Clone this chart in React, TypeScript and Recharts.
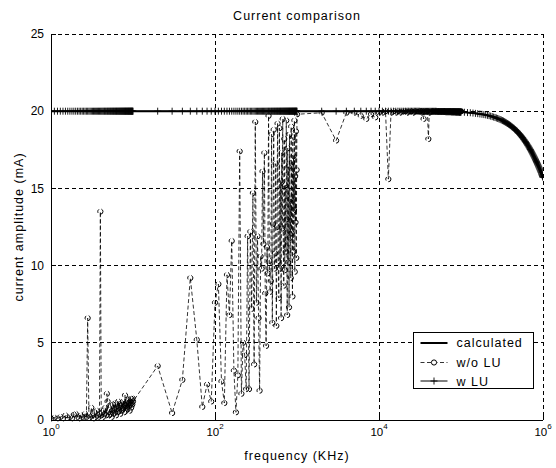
import React from 'react';
import { LineChart, Line, XAxis, YAxis, CartesianGrid } from 'recharts';

// ---------- frequency grid (kHz) ----------
const freqA = [
  1, 1.1, 1.2, 1.3, 1.4, 1.5, 1.6, 1.7, 1.8, 1.9,
  2, 2.1, 2.2, 2.3, 2.4, 2.5, 2.6, 2.7, 2.8, 2.9,
  3, 3.1, 3.2, 3.3, 3.4, 3.5, 3.6, 3.7, 3.8, 3.9,
  4, 4.1, 4.2, 4.3, 4.4, 4.5, 4.6, 4.7, 4.8, 4.9,
  5, 5.1, 5.2, 5.3, 5.4, 5.5, 5.6, 5.7, 5.8, 5.9,
  6, 6.1, 6.2, 6.3, 6.4, 6.5, 6.6, 6.7, 6.8, 6.9,
  7, 7.1, 7.2, 7.3, 7.4, 7.5, 7.6, 7.7, 7.8, 7.9,
  8, 8.1, 8.2, 8.3, 8.4, 8.5, 8.6, 8.7, 8.8, 8.9,
  9, 9.1, 9.2, 9.3, 9.4, 9.5, 9.6, 9.7, 9.8, 9.9,
  10,
];
const freqB = [20, 30, 40, 50, 60, 70, 80, 90, 100];
const freqC = [
  110, 120, 130, 140, 150, 160, 170, 180, 190, 200,
  210, 220, 230, 240, 250, 260, 270, 280, 290, 300,
  310, 320, 330, 340, 350, 360, 370, 380, 390, 400,
  410, 420, 430, 440, 450, 460, 470, 480, 490, 500,
  510, 520, 530, 540, 550, 560, 570, 580, 590, 600,
  610, 620, 630, 640, 650, 660, 670, 680, 690, 700,
  710, 720, 730, 740, 750, 760, 770, 780, 790, 800,
  810, 820, 830, 840, 850, 860, 870, 880, 890, 900,
  910, 920, 930, 940, 950, 960, 970, 980, 990, 1000,
];
const freqD = [2000, 3000, 4000, 5000, 6000, 7000, 8000, 9000, 10000];
const freqE = [
  11000, 12000, 13000, 14000, 15000, 16000, 17000, 18000, 19000, 20000,
  21000, 22000, 23000, 24000, 25000, 26000, 27000, 28000, 29000, 30000,
  31000, 32000, 33000, 34000, 35000, 36000, 37000, 38000, 39000, 40000,
  41000, 42000, 43000, 44000, 45000, 46000, 47000, 48000, 49000, 50000,
  51000, 52000, 53000, 54000, 55000, 56000, 57000, 58000, 59000, 60000,
  61000, 62000, 63000, 64000, 65000, 66000, 67000, 68000, 69000, 70000,
  71000, 72000, 73000, 74000, 75000, 76000, 77000, 78000, 79000, 80000,
  81000, 82000, 83000, 84000, 85000, 86000, 87000, 88000, 89000, 90000,
  91000, 92000, 93000, 94000, 95000, 96000, 97000, 98000, 99000, 100000,
];
const freqF = [
  110000, 120000, 130000, 140000, 150000, 160000, 170000, 180000, 190000, 200000,
  210000, 220000, 230000, 240000, 250000, 260000, 270000, 280000, 290000, 300000,
  310000, 320000, 330000, 340000, 350000, 360000, 370000, 380000, 390000, 400000,
  410000, 420000, 430000, 440000, 450000, 460000, 470000, 480000, 490000, 500000,
  510000, 520000, 530000, 540000, 550000, 560000, 570000, 580000, 590000, 600000,
  610000, 620000, 630000, 640000, 650000, 660000, 670000, 680000, 690000, 700000,
  710000, 720000, 730000, 740000, 750000, 760000, 770000, 780000, 790000, 800000,
  810000, 820000, 830000, 840000, 850000, 860000, 870000, 880000, 890000, 900000,
  910000, 920000, 930000, 940000, 950000, 960000, 970000, 980000, 990000, 1000000,
];

// ---------- calculated / w LU amplitude (mA) ----------
const calcA = [
  20, 20, 20, 20, 20, 20, 20, 20, 20, 20,
  20, 20, 20, 20, 20, 20, 20, 20, 20, 20,
  20, 20, 20, 20, 20, 20, 20, 20, 20, 20,
  20, 20, 20, 20, 20, 20, 20, 20, 20, 20,
  20, 20, 20, 20, 20, 20, 20, 20, 20, 20,
  20, 20, 20, 20, 20, 20, 20, 20, 20, 20,
  20, 20, 20, 20, 20, 20, 20, 20, 20, 20,
  20, 20, 20, 20, 20, 20, 20, 20, 20, 20,
  20, 20, 20, 20, 20, 20, 20, 20, 20, 20,
  20,
];
const calcB = [20, 20, 20, 20, 20, 20, 20, 20, 20];
const calcC = [
  20, 20, 20, 20, 20, 20, 20, 20, 20, 20,
  20, 20, 20, 20, 20, 20, 20, 20, 20, 20,
  20, 20, 20, 20, 20, 20, 20, 20, 20, 20,
  20, 20, 20, 20, 20, 20, 20, 20, 20, 20,
  20, 20, 20, 20, 20, 20, 20, 20, 20, 20,
  20, 20, 20, 20, 20, 20, 20, 20, 20, 20,
  20, 20, 20, 20, 20, 20, 20, 20, 20, 20,
  20, 20, 20, 20, 20, 20, 20, 20, 20, 20,
  20, 20, 20, 20, 20, 20, 20, 20, 20, 20,
];
const calcD = [20, 20, 20, 20, 20, 20, 20, 20, 20];
const calcE = [
  20, 20, 20, 20, 20, 20, 20, 20, 20, 20,
  20, 20, 20, 20, 20, 20, 20, 20, 20, 20,
  20, 19.99, 19.99, 19.99, 19.99, 19.99, 19.99, 19.99, 19.99, 19.99,
  19.99, 19.99, 19.99, 19.99, 19.99, 19.99, 19.99, 19.99, 19.99, 19.99,
  19.98, 19.98, 19.98, 19.98, 19.98, 19.98, 19.98, 19.98, 19.98, 19.98,
  19.98, 19.98, 19.98, 19.98, 19.97, 19.97, 19.97, 19.97, 19.97, 19.97,
  19.97, 19.97, 19.97, 19.97, 19.97, 19.96, 19.96, 19.96, 19.96, 19.96,
  19.96, 19.96, 19.96, 19.96, 19.96, 19.95, 19.95, 19.95, 19.95, 19.95,
  19.95, 19.95, 19.95, 19.95, 19.94, 19.94, 19.94, 19.94, 19.94, 19.94,
];
const calcF = [
  19.93, 19.91, 19.90, 19.88, 19.86, 19.84, 19.82, 19.80, 19.78, 19.76,
  19.73, 19.71, 19.68, 19.65, 19.62, 19.59, 19.56, 19.53, 19.50, 19.46,
  19.43, 19.39, 19.36, 19.32, 19.28, 19.24, 19.20, 19.16, 19.12, 19.08,
  19.03, 18.99, 18.94, 18.90, 18.85, 18.80, 18.76, 18.71, 18.66, 18.61,
  18.56, 18.51, 18.46, 18.41, 18.35, 18.30, 18.25, 18.19, 18.14, 18.08,
  18.03, 17.97, 17.92, 17.86, 17.80, 17.75, 17.69, 17.63, 17.57, 17.52,
  17.46, 17.40, 17.34, 17.28, 17.22, 17.16, 17.10, 17.04, 16.98, 16.92,
  16.86, 16.80, 16.74, 16.68, 16.62, 16.56, 16.50, 16.44, 16.38, 16.32,
  16.26, 16.20, 16.14, 16.08, 16.02, 15.95, 15.89, 15.83, 15.77, 15.71,
];

// ---------- w/o LU amplitude (mA) ----------
const woA = [
  0.1, 0.15, 0.1, 0.2, 0.1, 0.3, 0.15, 0.2, 0.1, 0.35,
  0.4, 0.2, 0.1, 0.3, 0.2, 0.15, 0.4, 0.2, 6.6, 0.3,
  0.2, 0.8, 0.3, 0.1, 0.5, 0.2, 0.6, 0.3, 0.2, 0.4,
  13.5, 0.3, 0.5, 0.2, 0.6, 0.4, 0.8, 0.3, 1.7, 1.2,
  0.5, 0.3, 0.7, 0.4, 0.9, 0.2, 0.6, 1.0, 0.4, 0.8,
  0.5, 1.1, 0.3, 0.7, 0.9, 0.5, 1.2, 0.6, 0.8, 1.0,
  0.4, 0.9, 1.1, 0.6, 1.0, 0.7, 1.2, 0.8, 0.5, 1.0,
  1.6, 0.9, 0.6, 1.1, 0.8, 1.2, 0.7, 1.0, 1.3, 0.9,
  1.1, 0.6, 1.2, 1.0, 1.4, 0.8, 1.1, 1.3, 1.0, 1.4,
  1.2,
];
const woB = [3.5, 0.45, 2.6, 9.2, 5.2, 0.85, 2.3, 1.2, 7.6];
const woC = [
  8.8, 2.5, 1.1, 9.4, 6.8, 11.6, 3.2, 0.5, 2.9, 17.4,
  1.7, 5.0, 4.2, 2.0, 11.9, 2.0, 12.2, 7.2, 14.7, 3.6,
  19.3, 7.6, 11.9, 6.6, 1.9, 10.6, 9.8, 16.1, 11.4, 17.3,
  8.2, 4.8, 11.2, 9.5, 19.7, 10.3, 8.3, 9.0, 18.5, 6.3,
  12.7, 18.8, 9.8, 10.8, 16.6, 6.1, 12.5, 19.2, 10.3, 7.9,
  18.9, 9.8, 15.5, 6.6, 17.3, 12.4, 19.5, 11.4, 8.7, 18.2,
  9.7, 15.2, 10.9, 19.4, 13.0, 6.8, 17.6, 10.2, 16.4, 7.3,
  18.5, 11.8, 14.3, 9.2, 19.0, 12.1, 16.7, 8.0, 18.3, 10.9,
  17.1, 13.6, 19.4, 9.6, 15.8, 12.8, 18.7, 10.5, 16.2, 19.8,
];
const woD = [19.9, 18.1, 19.9, 19.9, 19.7, 19.5, 19.8, 19.6, 19.9];
const woE = [
  19.9, 20, 15.6, 19.9, 20, 19.9, 20, 19.9, 20, 20,
  20, 19.9, 20, 20, 20, 19.9, 20, 20, 20, 20,
  20, 20, 19.9, 20, 19.5, 20, 20, 20, 20, 18.2,
  19.9, 20, 20, 20, 20, 20, 20, 20, 20, 20,
  20, 20, 20, 20, 20, 20, 20, 20, 20, 20,
  20, 20, 20, 20, 20, 20, 20, 20, 20, 20,
  20, 20, 20, 20, 20, 20, 20, 20, 20, 20,
  20, 20, 20, 20, 20, 20, 20, 20, 20, 20,
  20, 20, 20, 20, 20, 20, 20, 20, 20, 20,
];

const xTicks = [1, 100, 10000, 1000000];
const yTicks = [0, 5, 10, 15, 20, 25];

const pair = (fs: number[], vs: number[]) => fs.map((f, i) => ({ f, v: vs[i] }));

const calcData = [
  ...pair(freqA, calcA), ...pair(freqB, calcB), ...pair(freqC, calcC),
  ...pair(freqD, calcD), ...pair(freqE, calcE), ...pair(freqF, calcF),
];
const wluData = calcData;
const woData = [
  ...pair(freqA, woA), ...pair(freqB, woB), ...pair(freqC, woC),
  ...pair(freqD, woD), ...pair(freqE, woE),
];

const FONT = '"Liberation Sans", Arial, Helvetica, sans-serif';
const LABEL_SIZE = 12.5;
const LABEL_SPACING = 1;

const PlusDot = (props: any) => {
  const { cx, cy, index } = props;
  if (cx == null || cy == null) return <g key={`pe${index}`} />;
  return (
    <path
      key={`p${index}`}
      d={`M${cx - 3.5},${cy}H${cx + 3.5}M${cx},${cy - 3.5}V${cy + 3.5}`}
      stroke="#000"
      strokeWidth={0.9}
      fill="none"
    />
  );
};

const XTick = (props: any) => {
  const { x, y, payload } = props;
  const exp = Math.round(Math.log10(payload.value));
  return (
    <text x={x} y={y + 15.5} textAnchor="middle" fontSize={11.5} fontFamily={FONT} fill="#000">
      <tspan>10</tspan>
      <tspan dy={-7} fontSize={8}>{exp}</tspan>
    </text>
  );
};

export default function App() {
  return (
    <div style={{ position: 'relative', width: 556, height: 468, background: '#fff' }}>
      <style>{`html,body{margin:0;padding:0;background:#fff;overflow:hidden}
.recharts-cartesian-grid line{shape-rendering:crispEdges}
.recharts-cartesian-axis-line,.recharts-cartesian-axis-tick-line{shape-rendering:crispEdges}`}</style>
      <LineChart
        width={556}
        height={468}
        margin={{ top: 34, right: 13, bottom: 0, left: 0 }}
      >
        <CartesianGrid stroke="#000" strokeDasharray="4 3" strokeWidth={1} />
        <XAxis
          dataKey="f"
          type="number"
          scale="log"
          domain={[1, 1000000]}
          ticks={xTicks}
          allowDataOverflow
          height={48}
          tick={<XTick />}
          tickSize={-5}
          tickMargin={5}
          axisLine={{ stroke: '#000' }}
          tickLine={{ stroke: '#000' }}
          interval={0}
        />
        <YAxis
          type="number"
          domain={[0, 25]}
          ticks={yTicks}
          width={51}
          tickSize={-5}
          tickMargin={12}
          axisLine={{ stroke: '#000' }}
          tickLine={{ stroke: '#000' }}
          tick={{ fill: '#000', fontSize: 12, fontFamily: FONT }}
          interval={0}
        />
        <Line
          data={calcData}
          dataKey="v"
          stroke="#000"
          strokeWidth={2}
          dot={false}
          isAnimationActive={false}
        />
        <Line
          data={woData}
          dataKey="v"
          stroke="#000"
          strokeWidth={0.8}
          strokeDasharray="4 2.5"
          dot={{ r: 2.6, stroke: '#000', strokeWidth: 1, fill: 'none' }}
          isAnimationActive={false}
        />
        <Line
          data={wluData}
          dataKey="v"
          stroke="#000"
          strokeWidth={1}
          dot={<PlusDot />}
          isAnimationActive={false}
        />
      </LineChart>
      <svg
        width={556}
        height={468}
        style={{ position: 'absolute', left: 0, top: 0, pointerEvents: 'none' }}
        fontFamily={FONT}
        letterSpacing={LABEL_SPACING}
      >
        <text x={297} y={20} textAnchor="middle" fontSize={LABEL_SIZE} fill="#000">Current comparison</text>
        <text x={297} y={460} textAnchor="middle" fontSize={LABEL_SIZE} fill="#000">frequency (KHz)</text>
        <text
          x={0}
          y={0}
          transform="translate(23,227) rotate(-90)"
          textAnchor="middle"
          fontSize={LABEL_SIZE}
          fill="#000"
        >
          current amplitude (mA)
        </text>
        <g transform="translate(413.5,332.5)">
          <rect x={0} y={0} width={120} height={56} fill="#fff" stroke="#000" strokeWidth={1} />
          <line x1={7} x2={34} y1={10.5} y2={10.5} stroke="#000" strokeWidth={2} />
          <text x={43} y={14.5} fontSize={LABEL_SIZE} fill="#000">calculated</text>
          <line x1={7} x2={34} y1={30} y2={30} stroke="#000" strokeWidth={0.8} strokeDasharray="4 2.5" />
          <circle cx={20.5} cy={30} r={2.6} stroke="#000" strokeWidth={1} fill="#fff" />
          <text x={43} y={34.5} fontSize={LABEL_SIZE} fill="#000">w/o LU</text>
          <line x1={7} x2={34} y1={48.5} y2={48.5} stroke="#000" strokeWidth={1} />
          <path d="M17,48.5H24M20.5,45V52" stroke="#000" strokeWidth={0.9} />
          <text x={43} y={53} fontSize={LABEL_SIZE} fill="#000">w LU</text>
        </g>
      </svg>
    </div>
  );
}
